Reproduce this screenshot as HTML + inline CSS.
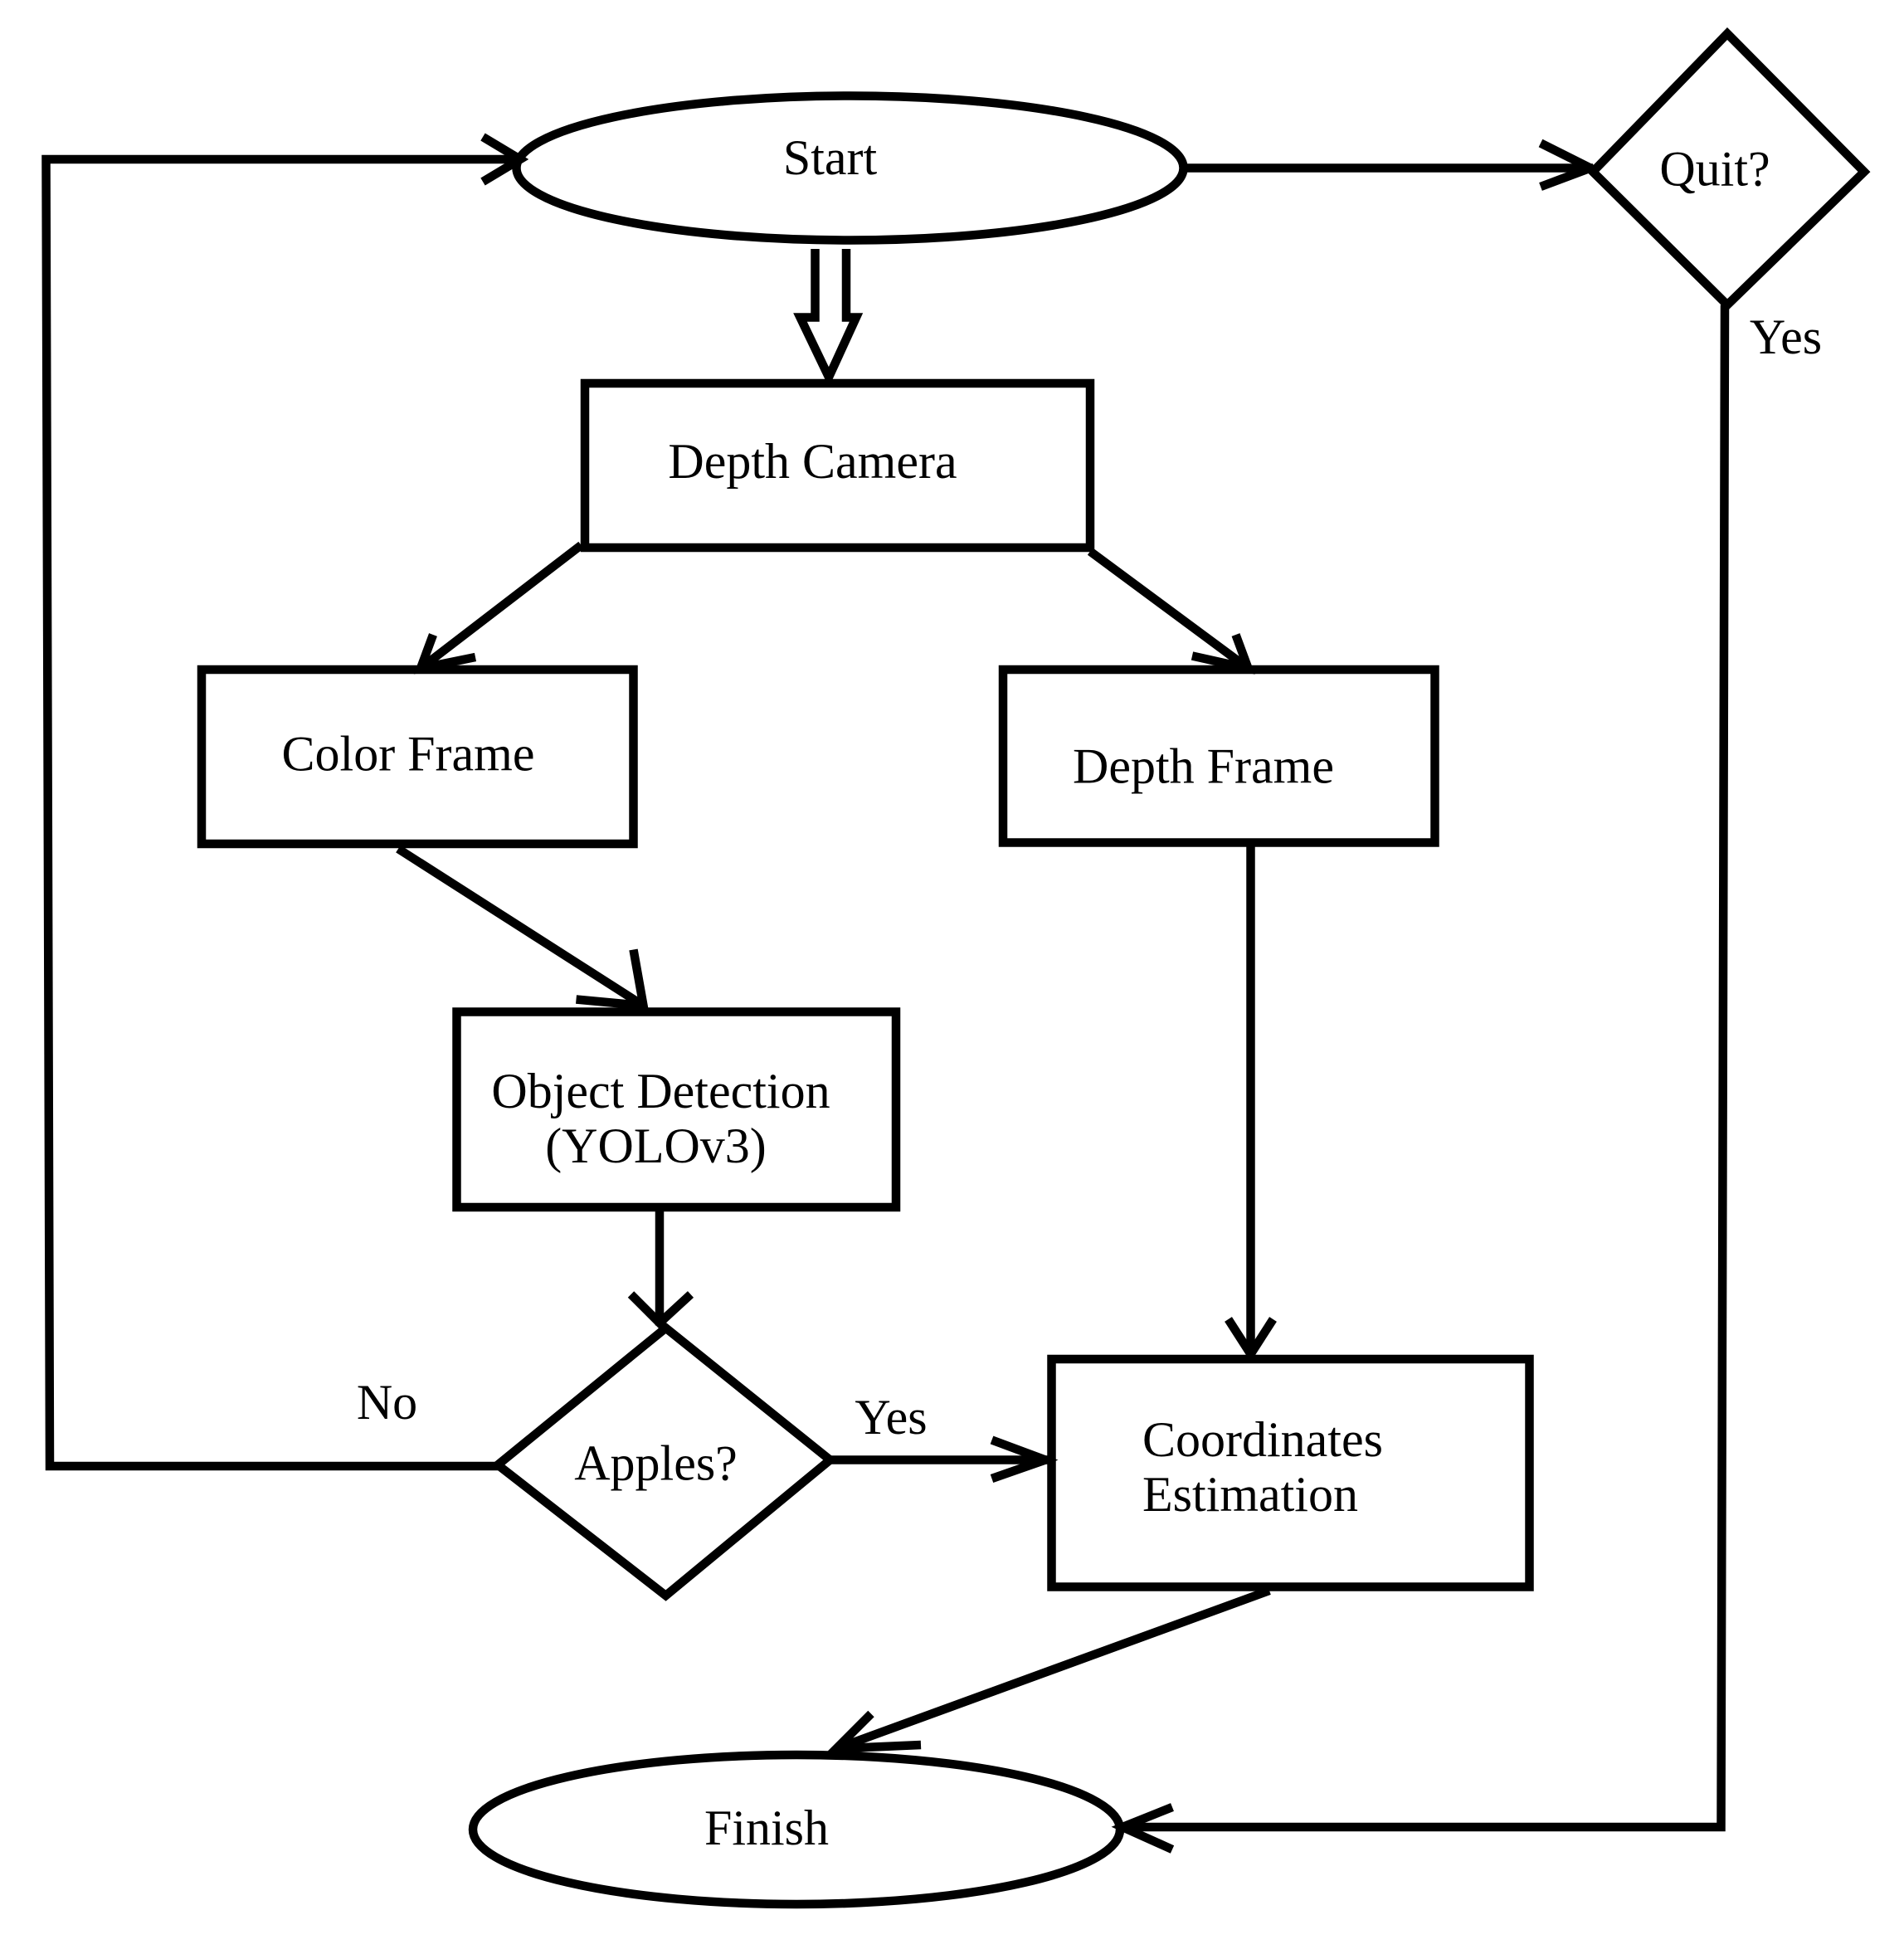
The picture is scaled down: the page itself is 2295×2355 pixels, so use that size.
<!DOCTYPE html>
<html><head><style>
html,body{margin:0;padding:0;background:#fff;}
svg{display:block;}
text{font-family:"Liberation Serif",serif;font-size:40px;fill:#000;}
</style></head><body>
<svg width="2295" height="2355" viewBox="0 0 1530 1570" preserveAspectRatio="none">
<g fill="none" stroke="#000" stroke-width="7" stroke-linejoin="miter">
<ellipse cx="683" cy="135" rx="268" ry="58"/>
<polyline points="400,1178 40,1178 37,128 415,128"/>
<polyline points="388,110 418,128 388,146"/>
<line x1="952" y1="135" x2="1280" y2="135"/>
<polyline points="1238,115 1278,135 1238,150"/>
<polygon points="1388,27 1498,138 1388,245 1280,138"/>
<polyline points="1386,245 1383,1468 902,1468"/>
<polyline points="942,1452 902,1468 942,1486"/>
<polyline points="655,200 655,255 643,255 666,303 688,255 680,255 680,200"/>
<rect x="470" y="308" width="406" height="132"/>
<line x1="467" y1="438" x2="338" y2="537"/>
<polyline points="348,510 338,537 382,528"/>
<line x1="876" y1="443" x2="1003" y2="537"/>
<polyline points="958,527 1003,537 993,510"/>
<rect x="162" y="538" width="347" height="140"/>
<rect x="806" y="538" width="347" height="139"/>
<line x1="320" y1="682" x2="517" y2="808"/>
<polyline points="463,803 517,808 509,763"/>
<rect x="367" y="813" width="353" height="157"/>
<line x1="530" y1="970" x2="530" y2="1065"/>
<polyline points="507,1040 530,1063 555,1040"/>
<polygon points="535,1067 667,1173 535,1282 400,1177"/>
<line x1="667" y1="1173" x2="842" y2="1173"/>
<polyline points="797,1157 840,1173 797,1188"/>
<line x1="1005" y1="677" x2="1005" y2="1088"/>
<polyline points="987,1060 1005,1088 1023,1060"/>
<rect x="845" y="1092" width="384" height="183"/>
<line x1="1020" y1="1278" x2="672" y2="1405"/>
<polyline points="700,1377 672,1405 740,1402"/>
<ellipse cx="640" cy="1470" rx="260" ry="60"/>
</g>
<text x="667" y="140" text-anchor="middle">Start</text>
<text x="1378" y="149" text-anchor="middle">Quit?</text>
<text x="1435" y="284" text-anchor="middle">Yes</text>
<text x="653" y="384" text-anchor="middle">Depth Camera</text>
<text x="328" y="619" text-anchor="middle">Color Frame</text>
<text x="967" y="629" text-anchor="middle">Depth Frame</text>
<text x="531" y="890" text-anchor="middle">Object Detection</text>
<text x="527" y="934" text-anchor="middle">(YOLOv3)</text>
<text x="527" y="1189" text-anchor="middle">Apples?</text>
<text x="311" y="1140" text-anchor="middle">No</text>
<text x="716" y="1152" text-anchor="middle">Yes</text>
<text x="918" y="1170">Coordinates</text>
<text x="918" y="1214">Estimation</text>
<text x="616" y="1482" text-anchor="middle">Finish</text>
</svg>
</body></html>
